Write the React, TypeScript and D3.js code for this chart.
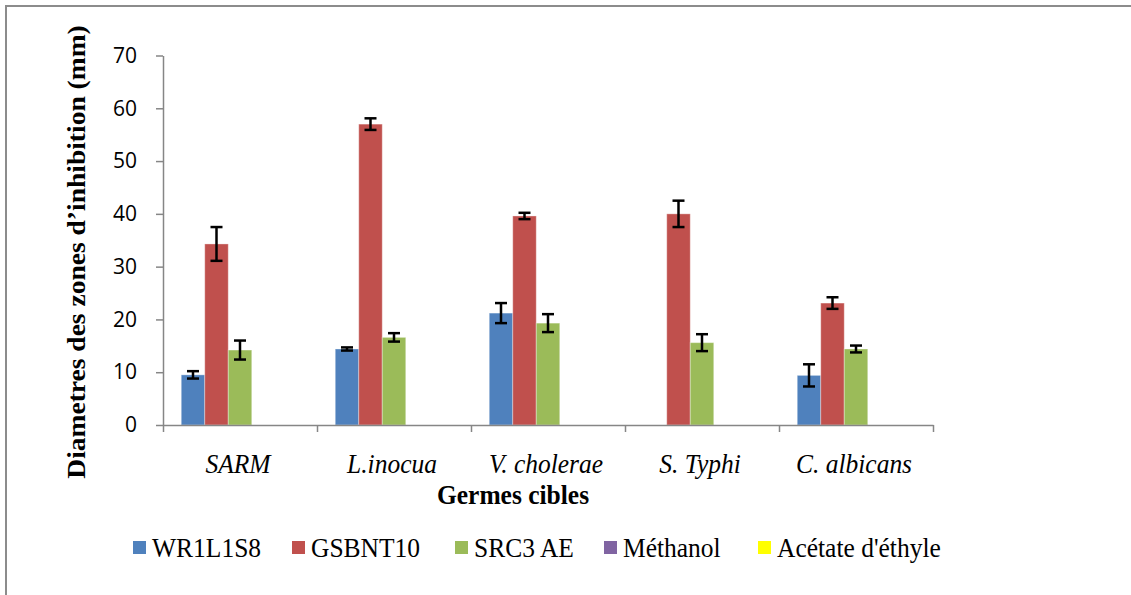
import { useEffect, useRef } from "react";
import * as d3 from "d3";

const categories = ["SARM", "L.inocua", "V. cholerae", "S. Typhi", "C. albicans"];
const seriesNames = ["WR1L1S8", "GSBNT10", "SRC3 AE", "Méthanol", "Acétate d'éthyle"];
const seriesColors = ["#4F81BD", "#C0504D", "#9BBB59", "#8064A2", "#FFFF00"];

const wr1Values = [9.5, 14.4, 21.2, null, 9.4];
const wr1Errors = [0.7, 0.3, 1.9, null, 2.1];
const gsbValues = [34.3, 57.0, 39.6, 40.0, 23.1];
const gsbErrors = [3.2, 1.1, 0.6, 2.5, 1.1];
const srcValues = [14.2, 16.6, 19.3, 15.6, 14.4];
const srcErrors = [1.8, 0.8, 1.7, 1.6, 0.65];
const methanolValues = [null, null, null, null, null];
const acetateValues = [null, null, null, null, null];

const yTicks = [0, 10, 20, 30, 40, 50, 60, 70];

const legendX = [133, 292, 455, 604, 758];

const SERIF = "'Liberation Serif', 'Times New Roman', Times, serif";

const App = () => {
  const ref = useRef<SVGSVGElement>(null);

  useEffect(() => {
    const svg = d3.select(ref.current);
    svg.selectAll("*").remove();

    const W = 1131;
    const H = 595;
    const left = 163;
    const right = 933;
    const top = 55.5;
    const bottom = 425;

    svg
      .append("path")
      .attr("d", `M6,${H + 2}V6H${W + 2}`)
      .attr("fill", "none")
      .attr("stroke", "#8c8c8c")
      .attr("stroke-width", 2);

    const x = d3
      .scaleBand<string>()
      .domain(categories)
      .range([left, right])
      .paddingInner(0.237)
      .paddingOuter(0.237 / 2);

    const xs = d3.scaleBand<string>().domain(seriesNames).range([0, x.bandwidth()]);

    const y = d3.scaleLinear().domain([0, 70]).range([bottom, top]);

    const table = [
      { values: wr1Values, errors: wr1Errors },
      { values: gsbValues, errors: gsbErrors },
      { values: srcValues, errors: srcErrors },
      { values: methanolValues, errors: methanolValues },
      { values: acetateValues, errors: acetateValues },
    ];

    const points: { cat: string; s: string; color: string; v: number; e: number | null }[] = [];
    table.forEach((t, si) => {
      t.values.forEach((v, ci) => {
        if (v == null) return;
        points.push({
          cat: categories[ci],
          s: seriesNames[si],
          color: seriesColors[si],
          v,
          e: t.errors[ci],
        });
      });
    });

    svg
      .append("g")
      .selectAll("rect")
      .data(points)
      .enter()
      .append("rect")
      .attr("x", (d) => (x(d.cat) as number) + (xs(d.s) as number))
      .attr("y", (d) => y(d.v))
      .attr("width", xs.bandwidth())
      .attr("height", (d) => y(0) - y(d.v))
      .attr("fill", (d) => d.color)
      .attr("stroke", "rgba(255,255,255,0.35)")
      .attr("stroke-width", 1);

    const yAxis = svg
      .append("g")
      .attr("transform", `translate(${left},0)`)
      .call(
        d3
          .axisLeft(y)
          .tickValues(yTicks)
          .tickSize(7)
          .tickSizeOuter(0)
          .tickPadding(19)
          .tickFormat(d3.format("d"))
      );
    yAxis.select(".domain").attr("stroke", "#868686").attr("stroke-width", 1.5);
    yAxis.selectAll(".tick line").attr("stroke", "#868686").attr("stroke-width", 1.5);
    yAxis
      .selectAll(".tick text")
      .attr("fill", "#000")
      .style("font-family", "'Open Sans', sans-serif")
      .style("font-size", "21px");

    const xIdx = d3.scaleLinear().domain([0, categories.length]).range([left, right]);
    const xAxis = svg
      .append("g")
      .attr("transform", `translate(0,${bottom})`)
      .call(
        d3
          .axisBottom(xIdx)
          .tickValues(d3.range(categories.length + 1))
          .tickSize(7)
          .tickSizeOuter(0)
          .tickFormat(() => "")
      );
    xAxis.select(".domain").attr("stroke", "#868686").attr("stroke-width", 1.5);
    xAxis.selectAll(".tick line").attr("stroke", "#868686").attr("stroke-width", 1.5);

    const capW = 12;
    const eb = svg
      .append("g")
      .selectAll("g")
      .data(points.filter((d) => d.e != null))
      .enter()
      .append("g")
      .attr("stroke", "#000")
      .attr("stroke-width", 2.5);
    const cx = (d: any) => (x(d.cat) as number) + (xs(d.s) as number) + xs.bandwidth() / 2;
    eb.append("line")
      .attr("x1", cx)
      .attr("x2", cx)
      .attr("y1", (d) => y(d.v + (d.e as number)))
      .attr("y2", (d) => y(d.v - (d.e as number)));
    eb.append("line")
      .attr("x1", (d) => cx(d) - capW / 2)
      .attr("x2", (d) => cx(d) + capW / 2)
      .attr("y1", (d) => y(d.v + (d.e as number)))
      .attr("y2", (d) => y(d.v + (d.e as number)));
    eb.append("line")
      .attr("x1", (d) => cx(d) - capW / 2)
      .attr("x2", (d) => cx(d) + capW / 2)
      .attr("y1", (d) => y(d.v - (d.e as number)))
      .attr("y2", (d) => y(d.v - (d.e as number)));

    // category labels (reference text is slightly stretched vertically)
    svg
      .append("g")
      .selectAll("text")
      .data(categories)
      .enter()
      .append("text")
      .attr("transform", (d) => `translate(${(x(d) as number) + x.bandwidth() / 2 - 2},473) scale(1,1.08)`)
      .attr("text-anchor", "middle")
      .style("font-family", SERIF)
      .style("font-style", "italic")
      .style("font-size", "25.5px")
      .text((d) => d);

    svg
      .append("text")
      .attr("transform", "translate(513,504) scale(1,1.08)")
      .attr("text-anchor", "middle")
      .style("font-family", SERIF)
      .style("font-weight", "bold")
      .style("font-size", "25.5px")
      .text("Germes cibles");

    svg
      .append("text")
      .attr("transform", "translate(85,252) rotate(-90) scale(1.08,1)")
      .attr("text-anchor", "middle")
      .style("font-family", SERIF)
      .style("font-weight", "bold")
      .style("font-size", "25.5px")
      .text("Diametres des zones d\u2019inhibition (mm)");

    const lg = svg
      .append("g")
      .selectAll("g")
      .data(seriesNames)
      .enter()
      .append("g")
      .attr("transform", (_d, i) => `translate(${legendX[i]},0)`);
    lg.append("rect")
      .attr("x", 0)
      .attr("y", 541)
      .attr("width", 13)
      .attr("height", 13)
      .attr("fill", (_d, i) => seriesColors[i]);
    lg.append("text")
      .attr("transform", "translate(19,556.5) scale(1,1.1)")
      .style("font-family", SERIF)
      .style("font-size", "25.5px")
      .text((d) => d);
  }, []);

  return (
    <svg
      ref={ref}
      width={1131}
      height={595}
      style={{ position: "absolute", left: 0, top: 0, background: "#fff" }}
    />
  );
};

export default App;
